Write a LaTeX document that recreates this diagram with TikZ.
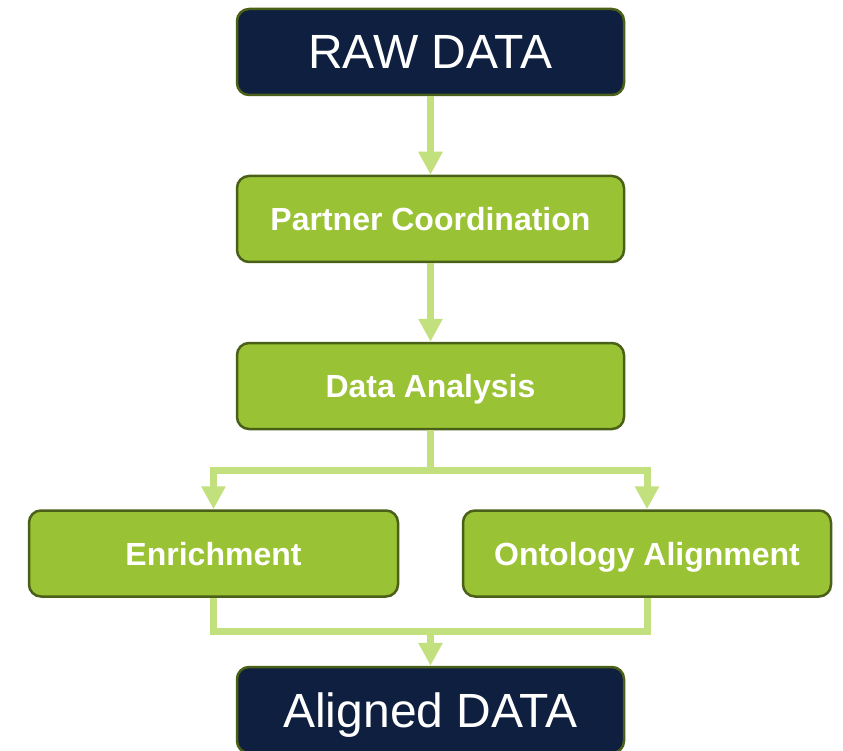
\documentclass[tikz,border=0pt]{standalone}
\usepackage{fontspec}
\setmainfont{Liberation Sans}
\usetikzlibrary{arrows.meta}
\definecolor{navy}{HTML}{0F1F3F}
\definecolor{olive}{HTML}{4A6018}
\definecolor{leaf}{HTML}{9AC235}
\definecolor{pale}{HTML}{C3E07E}
\tikzset{
  box/.style={rounded corners=12pt, draw=olive, line width=2.5pt, minimum height=86pt, text=white, inner sep=0pt, text depth=0pt},
  darkbox/.style={box, fill=navy, minimum width=387pt, font=\fontsize{48}{52}\selectfont},
  greenbox/.style={box, fill=leaf, font=\fontsize{32}{36}\selectfont\bfseries},
  link/.style={draw=pale, line width=7pt},
  arr/.style={link, -{Triangle[length=23pt,width=23pt]}}
}
\begin{document}
\begin{tikzpicture}[x=1pt,y=-1pt]
\useasboundingbox (0,0) rectangle (843,751);
\clip (0,0) rectangle (843,751);
\node[darkbox] (raw) at (430.5,52) {RAW DATA};
\node[greenbox, minimum width=387pt] (pc) at (430.5,219) {Partner Coordination};
\node[greenbox, minimum width=387pt] (da) at (430.5,386) {Data Analysis};
\node[greenbox, minimum width=369pt] (en) at (213.5,553.5) {Enrichment};
\node[greenbox, minimum width=368pt] (on) at (647,553.5) {Ontology Alignment};
\node[darkbox] (al) at (430.5,710) {Aligned DATA};
\coordinate (split) at (430.5,470);
\coordinate (merge) at (430.5,631);
\draw[arr] (raw.south) -- (pc.north);
\draw[arr] (pc.south) -- (da.north);
\draw[link] (da.south) -- (split);
\draw[arr] (split) -| (en.north);
\draw[arr] (split) -| (on.north);
\draw[link] (en.south) |- (merge) -| (on.south);
\draw[arr] (merge) -- (al.north);
\end{tikzpicture}
\end{document}
